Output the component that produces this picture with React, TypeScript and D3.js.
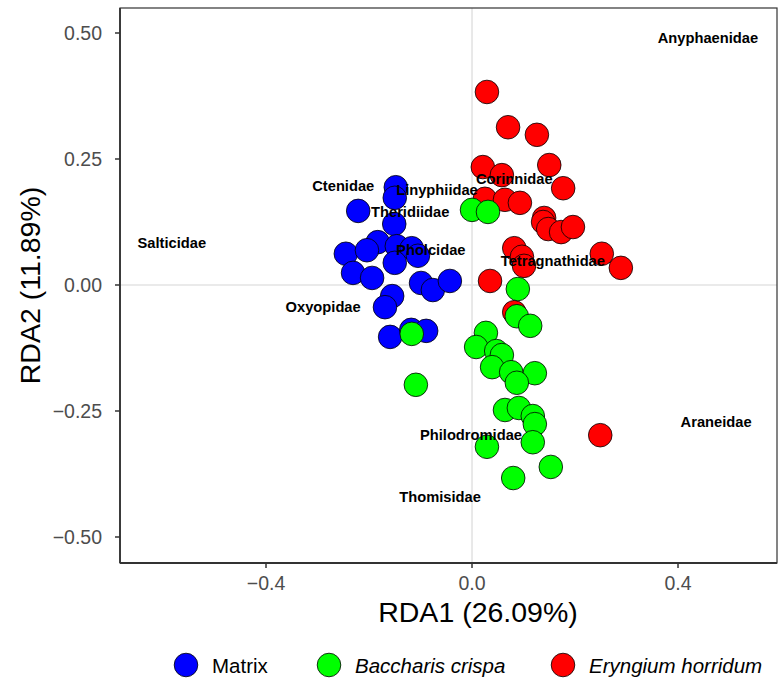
import React from "react";
import * as d3 from "d3";

const W = 779;
const H = 686;

const xTicks = [-0.4, 0, 0.4];
const xTickLabels = ["\u22120.4", "0.0", "0.4"];
const yTicks = [-0.5, -0.25, 0, 0.25, 0.5];
const yTickLabels = ["\u22120.50", "\u22120.25", "0.00", "0.25", "0.50"];

const groups = ["Matrix", "Baccharis crispa", "Eryngium horridum"];
const groupColors = ["#0000FF", "#00FF00", "#FF0000"];

const matrixPts: [number, number][] = [
  [-0.148, 0.194], [-0.15, 0.173], [-0.221, 0.147], [-0.151, 0.121],
  [-0.183, 0.085], [-0.245, 0.062], [-0.204, 0.069], [-0.146, 0.077],
  [-0.117, 0.073], [-0.105, 0.058], [-0.15, 0.044], [-0.231, 0.024],
  [-0.194, 0.014], [-0.099, 0.004], [-0.076, -0.01], [-0.043, 0.008],
  [-0.155, -0.022], [-0.169, -0.044], [-0.159, -0.103], [-0.118, -0.089],
  [-0.089, -0.091],
];

const baccharisPts: [number, number][] = [
  [0.0, 0.149], [0.031, 0.145], [-0.117, -0.097], [-0.109, -0.198],
  [0.089, -0.008], [0.087, -0.062], [0.113, -0.081], [0.027, -0.095],
  [0.008, -0.123], [0.047, -0.131], [0.058, -0.139], [0.039, -0.163],
  [0.076, -0.173], [0.122, -0.175], [0.087, -0.194], [0.064, -0.248],
  [0.091, -0.244], [0.118, -0.26], [0.122, -0.276], [0.118, -0.312],
  [0.029, -0.321], [0.153, -0.361], [0.08, -0.383],
];

const eryngiumPts: [number, number][] = [
  [0.029, 0.383], [0.07, 0.313], [0.126, 0.298], [0.15, 0.238],
  [0.021, 0.234], [0.058, 0.218], [0.177, 0.192], [0.025, 0.171],
  [0.064, 0.169], [0.093, 0.163], [0.14, 0.133], [0.138, 0.125],
  [0.148, 0.111], [0.173, 0.105], [0.196, 0.115], [0.082, 0.073],
  [0.097, 0.056], [0.101, 0.038], [0.252, 0.062], [0.289, 0.034],
  [0.035, 0.008], [0.082, -0.054], [0.249, -0.298],
];

const familyNames = [
  "Anyphaenidae", "Ctenidae", "Linyphiidae", "Corinnidae", "Theridiidae",
  "Salticidae", "Pholcidae", "Tetragnathidae", "Oxyopidae", "Araneidae",
  "Philodromidae", "Thomisidae",
];
const familyX = [0.458, -0.25, -0.068, 0.082, -0.12, -0.583, -0.08, 0.157, -0.289, 0.474, -0.002, -0.062];
const familyY = [0.49, 0.196, 0.188, 0.21, 0.145, 0.083, 0.069, 0.048, -0.044, -0.272, -0.298, -0.421];

const FONT = "'Liberation Sans', Arial, Helvetica, sans-serif";

export default function App() {
  const left = 120, right = 777, top = 8, bottom = 563;
  const x = d3.scaleLinear().domain([-0.6835, 0.5922]).range([left, right]);
  const y = d3.scaleLinear().domain([-0.5516, 0.5496]).range([bottom, top]);
  const r = 11.8;

  const seriesOrder: [number, [number, number][]][] = [
    [0, matrixPts],
    [2, eryngiumPts],
    [1, baccharisPts],
  ];

  const legendCx = [186, 329, 563];

  return (
    <svg
      width={W}
      height={H}
      style={{ position: "absolute", left: 0, top: 0, background: "#fff" }}
      fontFamily={FONT}
    >
      <rect x={0} y={0} width={W} height={H} fill="#fff" />
      {/* zero reference lines */}
      <line x1={x(0)} x2={x(0)} y1={top} y2={bottom} stroke="#e3e3e3" strokeWidth={1.6} />
      <line x1={left} x2={right} y1={y(0)} y2={y(0)} stroke="#e3e3e3" strokeWidth={1.6} />

      {/* points */}
      {seriesOrder.map(([gi, pts]) =>
        pts.map((p, i) => (
          <circle
            key={`${gi}-${i}`}
            cx={x(p[0])}
            cy={y(p[1])}
            r={r}
            fill={groupColors[gi]}
            stroke="#000"
            strokeWidth={0.8}
          />
        ))
      )}

      {/* family labels */}
      {familyNames.map((n, i) => (
        <text
          key={n}
          x={x(familyX[i])}
          y={y(familyY[i])}
          textAnchor="middle"
          dominantBaseline="central"
          fontSize={14.7}
          fontWeight="bold"
          fill="#000"
        >
          {n}
        </text>
      ))}

      {/* panel border */}
      <rect x={left} y={top} width={right - left} height={bottom - top} fill="none" stroke="#333" strokeWidth={1.2} />
      <line x1={left} x2={left} y1={top} y2={bottom} stroke="#333" strokeWidth={1.8} />
      <line x1={left} x2={right} y1={bottom} y2={bottom} stroke="#333" strokeWidth={1.8} />

      {/* y ticks */}
      {yTicks.map((t, i) => (
        <g key={`y${i}`}>
          <line x1={left - 5} x2={left} y1={y(t)} y2={y(t)} stroke="#333" strokeWidth={1.5} />
          <text
            x={left - 18}
            y={y(t)}
            textAnchor="end"
            dominantBaseline="central"
            fontSize={19.5}
            fill="#4d4d4d"
          >
            {yTickLabels[i]}
          </text>
        </g>
      ))}

      {/* x ticks */}
      {xTicks.map((t, i) => (
        <g key={`x${i}`}>
          <line x1={x(t)} x2={x(t)} y1={bottom} y2={bottom + 5} stroke="#333" strokeWidth={1.5} />
          <text
            x={x(t)}
            y={bottom + 20}
            textAnchor="middle"
            dominantBaseline="central"
            fontSize={19.5}
            fill="#4d4d4d"
          >
            {xTickLabels[i]}
          </text>
        </g>
      ))}

      {/* axis titles */}
      <text x={478} y={612} textAnchor="middle" dominantBaseline="central" fontSize={28.5} fill="#000">
        RDA1 (26.09%)
      </text>
      <text
        transform={`translate(30, ${(top + bottom) / 2}) rotate(-90)`}
        textAnchor="middle"
        dominantBaseline="central"
        fontSize={28.5}
        fill="#000"
      >
        RDA2 (11.89%)
      </text>

      {/* legend */}
      {groups.map((g, i) => (
        <g key={g}>
          <circle cx={legendCx[i]} cy={665} r={r} fill={groupColors[i]} stroke="#000" strokeWidth={0.8} />
          <text
            x={legendCx[i] + 26}
            y={665}
            dominantBaseline="central"
            fontSize={20.5}
            fontStyle={i === 0 ? "normal" : "italic"}
            fill="#000"
          >
            {g}
          </text>
        </g>
      ))}
    </svg>
  );
}
